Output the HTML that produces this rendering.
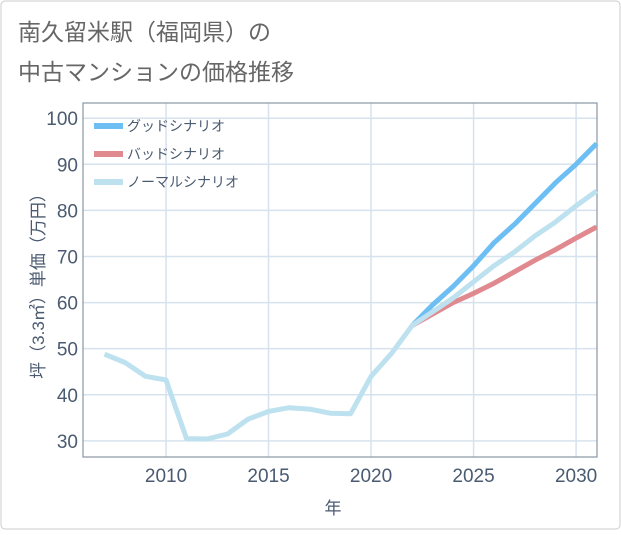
<!DOCTYPE html>
<html><head><meta charset="utf-8"><style>
body{margin:0;background:#fff;}
#wrap{position:relative;width:621px;height:530px;font-family:"Liberation Sans","Noto Sans CJK JP",sans-serif;}
svg text{font-family:"Liberation Sans","Noto Sans CJK JP",sans-serif;}
</style></head><body>
<div id="wrap">
<svg id="chart" width="621" height="530">
<rect x="1" y="1" width="619" height="528" rx="4" fill="#fff" stroke="#ccc"/>
<text x="18" y="40" font-size="23" fill="#666">南久留米駅（福岡県）の</text>
<text x="18" y="80" font-size="23" fill="#666">中古マンションの価格推移</text>
<g id="grid"></g><g id="axes"></g><g id="series"></g><g id="legend"></g>
<text transform="translate(44,282) rotate(-90)" text-anchor="middle" font-size="17" fill="#4a5a70">坪（3.3㎡）単価（万円）</text>
<text x="333" y="514" text-anchor="middle" font-size="17" fill="#4a5a70">年</text>
</svg></div>
<script>
const years=[2007,2008,2009,2010,2011,2012,2013,2014,2015,2016,2017,2018,2019,2020,2021,2022,2023,2024,2025,2026,2027,2028,2029,2030,2031];
const normal=[48.8,47,44,43.2,30.5,30.4,31.5,34.7,36.4,37.2,36.9,36,35.9,44,49,55,58,61,64.5,68,71,74.5,77.5,81,84.2];
const goodYears=[2022,2023,2024,2025,2026,2027,2028,2029,2030,2031];
const good=[55,59.5,63.5,68,73,77,81.5,86,90,94.5];
const bad=[55,57.5,60,62,64.2,66.7,69.2,71.5,74,76.4];
const yTicks=[30,40,50,60,70,80,90,100];
const xTicks=[2010,2015,2020,2025,2030];
const L=83,R=597,T=103,B=457;
const X0=2005.95,X1=2031.02,Y0=26.5,Y1=103.3;
const xs=v=>L+(v-X0)/(X1-X0)*(R-L);
const ys=v=>B-(v-Y0)/(Y1-Y0)*(B-T);
const NS="http://www.w3.org/2000/svg";
function mk(tag,attrs,parent){const e=document.createElementNS(NS,tag);for(const k in attrs)e.setAttribute(k,attrs[k]);document.getElementById(parent).appendChild(e);return e;}
yTicks.forEach(v=>{
 const l=mk('line',{x1:L,x2:R,y1:ys(v),y2:ys(v),stroke:'#d6e2ee','stroke-width':1.5},'grid');
 
 
 const t=mk('text',{x:L-5,y:ys(v)+7,'text-anchor':'end','font-size':19,fill:'#4a5a70'},'axes');t.textContent=v;
 
 
});
xTicks.forEach(v=>{
 const l=mk('line',{x1:xs(v),x2:xs(v),y1:T,y2:B,stroke:'#d6e2ee','stroke-width':1.5},'grid');
 
 
 const t=mk('text',{x:xs(v),y:B+25,'text-anchor':'middle','font-size':19,fill:'#4a5a70'},'axes');t.textContent=v;
 
 
});
const fr=mk('rect',{x:L,y:T,width:R-L,height:B-T,fill:'none',stroke:'#8a96a3','stroke-width':1.2},'axes');


function line(xv,yv,color,name){
 const d=xv.map((x,i)=>(i?'L':'M')+xs(x).toFixed(1)+','+ys(yv[i]).toFixed(1)).join('');
 const p=mk('path',{d:d,fill:'none',stroke:color,'stroke-width':5,'stroke-linejoin':'round'},'series');
 
 
}
line(goodYears,bad,'#e08a90','bad-scenario-line');
line(goodYears,good,'#6dbef3','good-scenario-line');
line(years,normal,'#bde1ef','normal-scenario-line');
[['グッドシナリオ','#6dbef3','legend-good'],['バッドシナリオ','#e08a90','legend-bad'],['ノーマルシナリオ','#bde1ef','legend-normal']].forEach((e,i)=>{
 const y=126+i*28;
 const r=mk('rect',{x:94,y:y-3,width:29,height:6,fill:e[1]},'legend');
 
 
 const t=mk('text',{x:127,y:y+5,'font-size':14,fill:'#4a5a70'},'legend');t.textContent=e[0];
 
 
});
</script>
</body></html>
